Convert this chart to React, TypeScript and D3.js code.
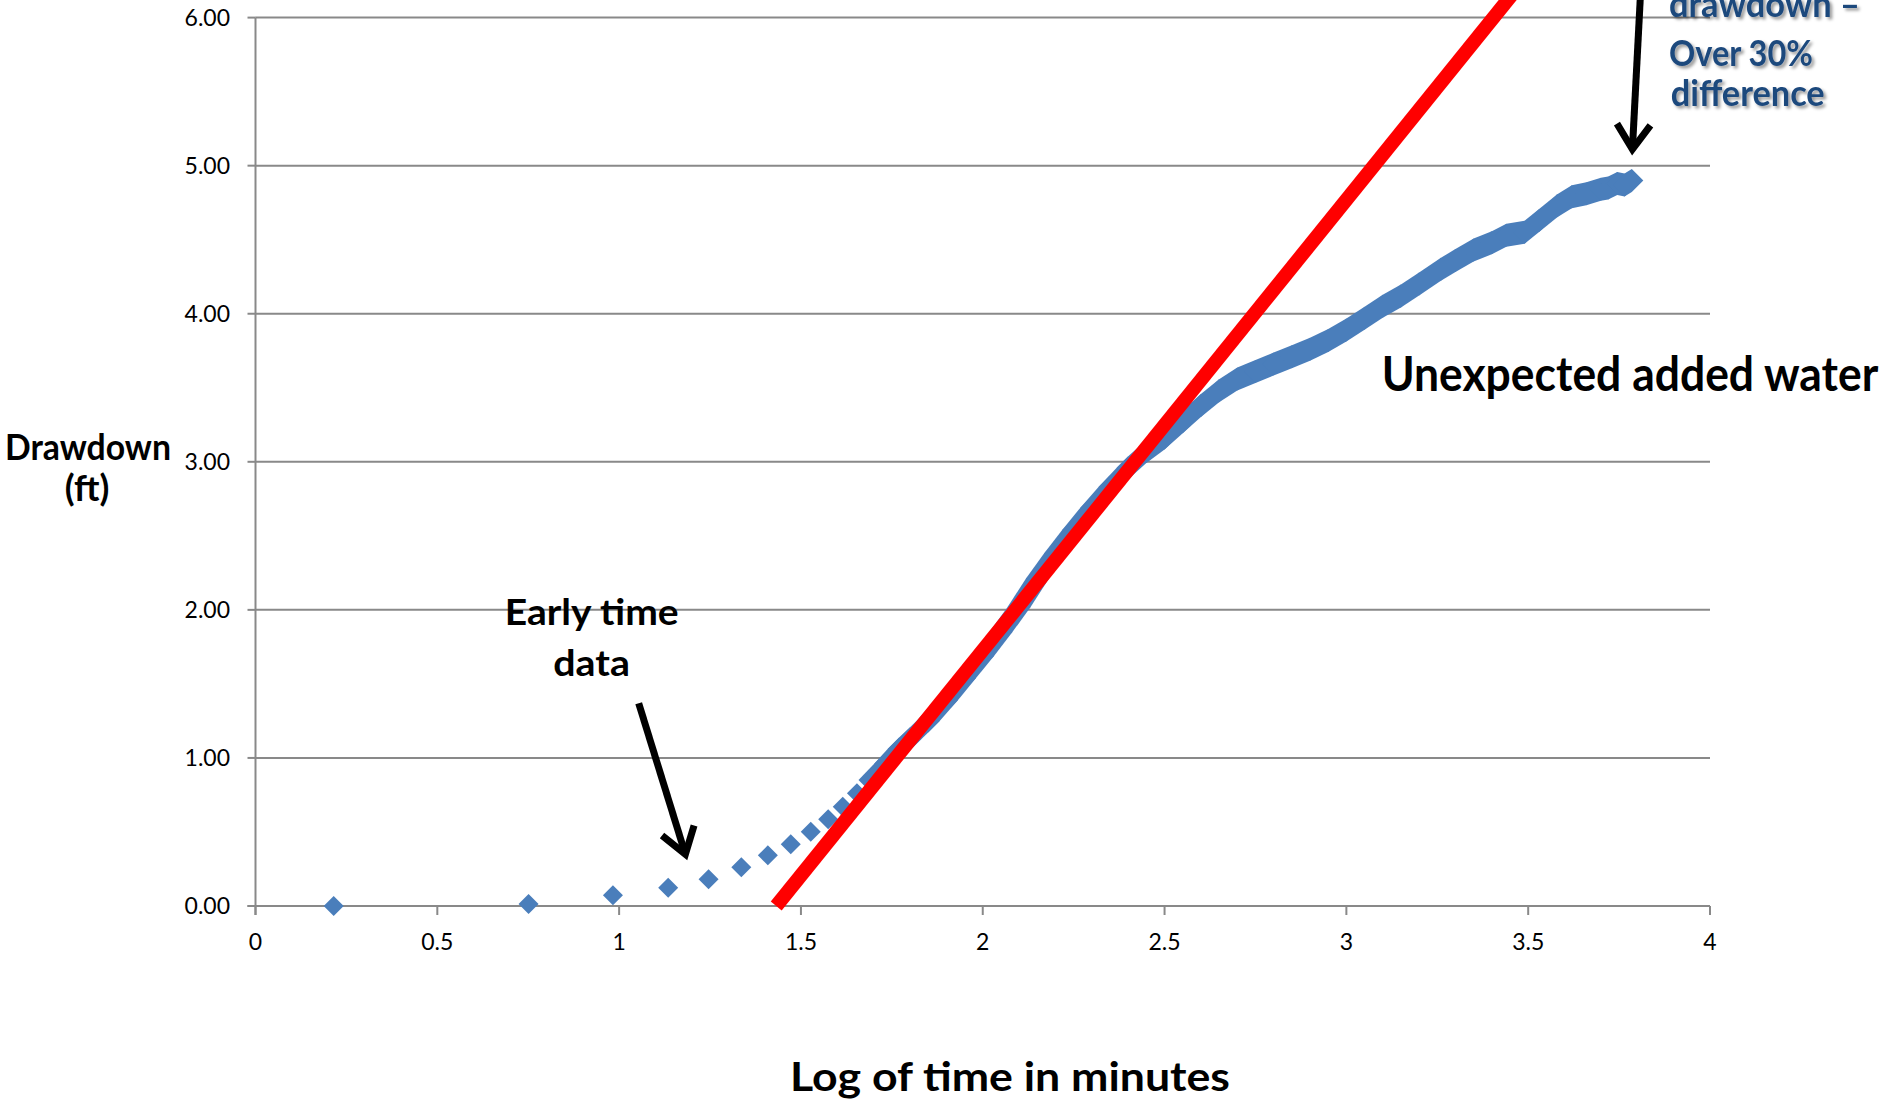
import React from "react";
import * as d3 from "d3";

const W = 1889;
const H = 1101;

// Early-time drawdown readings, drawn as separate diamond markers
const earlyLogTime = [0.215, 0.751, 0.983, 1.135, 1.246, 1.336, 1.409, 1.472, 1.527, 1.575, 1.615, 1.654];
const earlyDrawdown = [0.0, 0.013, 0.072, 0.124, 0.18, 0.261, 0.342, 0.417, 0.502, 0.586, 0.671, 0.761];

// Later readings, close enough that the markers merge into one band
const bandLogTime = [
  1.69, 1.733, 1.77, 1.8, 1.85, 1.9, 1.95, 2.0, 2.05, 2.1, 2.15, 2.2, 2.25, 2.3, 2.35, 2.4,
  2.45, 2.5, 2.55, 2.6, 2.65, 2.7, 2.75, 2.8, 2.85, 2.9, 2.95, 3.0, 3.05, 3.1, 3.15, 3.2,
  3.26, 3.3, 3.35, 3.4, 3.44, 3.49, 3.53, 3.58, 3.62, 3.66, 3.7, 3.72, 3.745, 3.765, 3.785,
];
const bandDrawdown = [
  0.851, 0.96, 1.06, 1.13, 1.25, 1.39, 1.54, 1.69, 1.85, 2.02, 2.21, 2.38, 2.54, 2.69, 2.83, 2.96,
  3.07, 3.16, 3.27, 3.38, 3.48, 3.56, 3.61, 3.66, 3.71, 3.76, 3.82, 3.89, 3.97, 4.05, 4.12, 4.2,
  4.3, 4.36, 4.43, 4.48, 4.53, 4.55, 4.63, 4.73, 4.79, 4.81, 4.84, 4.85, 4.88, 4.87, 4.9,
];

// Straight-line (semi-log) fit through the middle-time data
const fitLogTime = [1.432, 3.49];
const fitDrawdown = [0, 6.26];

const xTicks = [0, 0.5, 1, 1.5, 2, 2.5, 3, 3.5, 4];
const yTicks = [0, 1, 2, 3, 4, 5, 6];

const BLUE = "#4a7ebb";
const GRID = "#898989";
const FONT = "Lato, 'Open Sans', 'DejaVu Sans', sans-serif";
const NOTE_BLUE = "#1f497d";

const x = d3.scaleLinear().domain([0, 4]).range([255.5, 1710]);
const y = d3.scaleLinear().domain([0, 6]).range([906, 17.6]);

const R_EARLY = 10; // half-diagonal of a lone diamond marker
const R_BAND = 11.5; // half-diagonal of the merged markers

function diamondCorners(cx: number, cy: number, r: number): [number, number][] {
  return [
    [cx - r, cy],
    [cx, cy - r],
    [cx + r, cy],
    [cx, cy + r],
  ];
}

function diamondPath(cx: number, cy: number, r: number) {
  const c = diamondCorners(cx, cy, r);
  return "M" + c.map((p) => p.join(",")).join("L") + "Z";
}

// Open "V" arrow: shaft from (x0,y0) to apex (x1,y1), wings folded back
function arrowPaths(x0: number, y0: number, x1: number, y1: number, wing: number, halfAngleDeg: number) {
  const ang = Math.atan2(y0 - y1, x0 - x1);
  const a = (halfAngleDeg * Math.PI) / 180;
  const w1: [number, number] = [x1 + wing * Math.cos(ang + a), y1 + wing * Math.sin(ang + a)];
  const w2: [number, number] = [x1 + wing * Math.cos(ang - a), y1 + wing * Math.sin(ang - a)];
  return {
    shaft: `M${x0},${y0}L${x1},${y1}`,
    head: `M${w1[0]},${w1[1]}L${x1},${y1}L${w2[0]},${w2[1]}`,
  };
}

export default function App() {
  const bandPts = bandLogTime.map((t, i) => [x(t), y(bandDrawdown[i])] as [number, number]);
  const hulls: string[] = [];
  for (let i = 0; i < bandPts.length - 1; i++) {
    const corners = [
      ...diamondCorners(bandPts[i][0], bandPts[i][1], R_BAND),
      ...diamondCorners(bandPts[i + 1][0], bandPts[i + 1][1], R_BAND),
    ];
    const hull = d3.polygonHull(corners);
    if (hull) hulls.push("M" + hull.map((p) => p.join(",")).join("L") + "Z");
  }

  const fitLine = d3
    .line<number>()
    .x((t) => x(t))
    .y((_, i) => y(fitDrawdown[i]));

  const earlyArrow = arrowPaths(638.7, 703.3, 685.4, 854.3, 30, 34);
  const lateArrow = arrowPaths(1640.5, -6, 1632.4, 149.3, 30, 34);

  const fmtY = d3.format(".2f");
  const fmtX = (v: number) => String(v);

  return (
    <svg
      width={W}
      height={H}
      viewBox={`0 0 ${W} ${H}`}
      style={{ position: "absolute", left: 0, top: 0, background: "#fff" }}
    >
      <defs>
        <filter id="noteShadow" x="-10%" y="-30%" width="130%" height="180%">
          <feDropShadow dx="2.5" dy="2.5" stdDeviation="1.6" floodColor="#000" floodOpacity="0.4" />
        </filter>
      </defs>

      {/* horizontal gridlines */}
      {yTicks.map((v) => (
        <line key={"g" + v} x1={x(0)} x2={x(4)} y1={y(v)} y2={y(v)} stroke={GRID} strokeWidth={2} />
      ))}

      {/* axes */}
      <line x1={x(0)} x2={x(0)} y1={y(6)} y2={y(0) + 9} stroke={GRID} strokeWidth={2} />
      <line x1={x(0) - 8} x2={x(4)} y1={y(0)} y2={y(0)} stroke={GRID} strokeWidth={2} />
      {yTicks.map((v) => (
        <line key={"yt" + v} x1={x(0) - 8} x2={x(0)} y1={y(v)} y2={y(v)} stroke={GRID} strokeWidth={2} />
      ))}
      {xTicks.map((v) => (
        <line key={"xt" + v} x1={x(v)} x2={x(v)} y1={y(0)} y2={y(0) + 9} stroke={GRID} strokeWidth={2} />
      ))}

      {/* tick labels */}
      {yTicks.map((v) => (
        <text key={"yl" + v} x={230} y={y(v) + 8.4} textAnchor="end" fontFamily={FONT} fontSize={23} fill="#000">
          {fmtY(v)}
        </text>
      ))}
      {xTicks.map((v) => (
        <text key={"xl" + v} x={x(v)} y={950} textAnchor="middle" fontFamily={FONT} fontSize={23} fill="#000">
          {fmtX(v)}
        </text>
      ))}

      {/* drawdown readings */}
      {earlyLogTime.map((t, i) => (
        <path key={"e" + i} d={diamondPath(x(t), y(earlyDrawdown[i]), R_EARLY)} fill={BLUE} />
      ))}
      {hulls.map((d, i) => (
        <path key={"h" + i} d={d} fill={BLUE} />
      ))}

      {/* fitted straight line */}
      <path d={fitLine(fitLogTime) || ""} stroke="#ff0000" strokeWidth={14} fill="none" strokeLinecap="butt" />

      {/* arrows */}
      <g stroke="#000" strokeWidth={7} fill="none">
        <path d={earlyArrow.shaft} />
        <path d={earlyArrow.head} strokeLinejoin="miter" />
        <path d={lateArrow.shaft} />
        <path d={lateArrow.head} strokeLinejoin="miter" />
      </g>

      {/* annotations */}
      <g fontFamily={FONT} fontWeight={700} fill="#000">
        <text x={5} y={460} fontSize={36} textLength={166} lengthAdjust="spacingAndGlyphs">
          Drawdown
        </text>
        <text x={87} y={501} fontSize={36} textAnchor="middle">
          (ft)
        </text>
        <text x={504.7} y={625} fontSize={36} textLength={174} lengthAdjust="spacingAndGlyphs">
          Early time
        </text>
        <text x={553.3} y={676} fontSize={36} textLength={76.6} lengthAdjust="spacingAndGlyphs">
          data
        </text>
        <text x={1381.7} y={391} fontSize={47} textLength={496.6} lengthAdjust="spacingAndGlyphs">
          Unexpected added water
        </text>
        <text x={790} y={1091} fontSize={41} textLength={440} lengthAdjust="spacingAndGlyphs">
          Log of time in minutes
        </text>
      </g>
      <g fontFamily={FONT} fontWeight={700} fill={NOTE_BLUE} fontSize={37} filter="url(#noteShadow)">
        <text x={1669} y={17} textLength={191} lengthAdjust="spacingAndGlyphs">
          drawdown –
        </text>
        <text x={1669} y={66} textLength={144} lengthAdjust="spacingAndGlyphs">
          Over 30%
        </text>
        <text x={1670.7} y={106} textLength={154} lengthAdjust="spacingAndGlyphs">
          difference
        </text>
      </g>
    </svg>
  );
}
